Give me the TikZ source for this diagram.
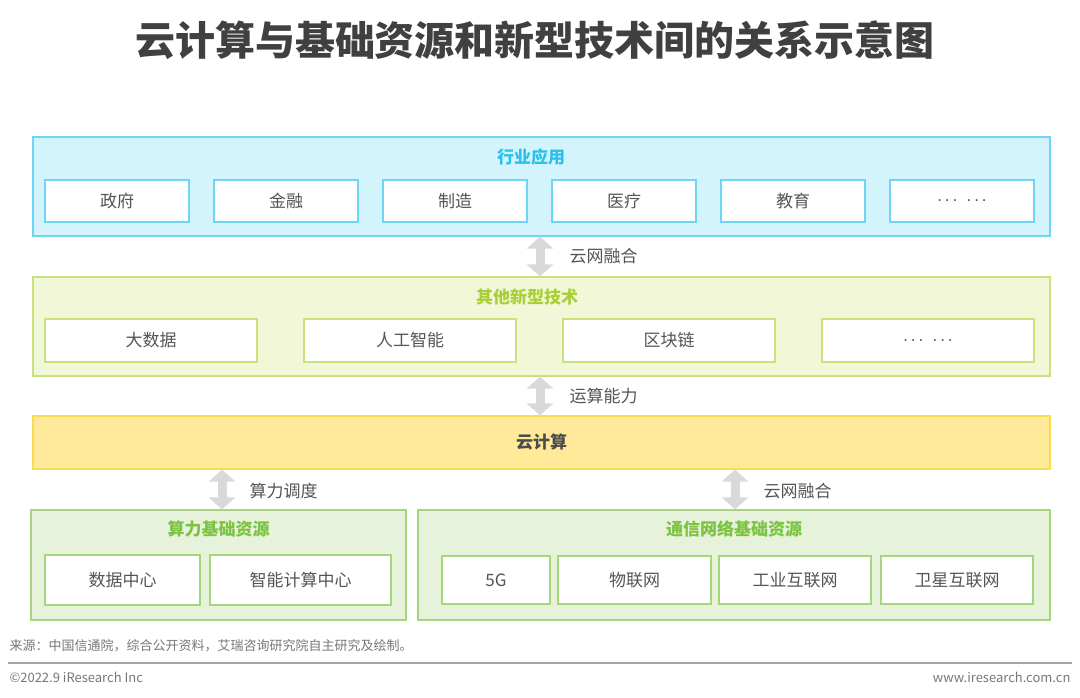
\documentclass[tikz,border=0pt]{standalone}
\usepackage{fontspec}
\setmainfont{Noto Sans CJK SC}
\newfontfamily\latinfont{Liberation Sans}
\usetikzlibrary{arrows.meta}
\definecolor{indfill}{HTML}{D4F4FD}
\definecolor{indline}{HTML}{6DD6F5}
\definecolor{indhead}{HTML}{2CC0EC}
\definecolor{techfill}{HTML}{F1F7D7}
\definecolor{techline}{HTML}{C8E27C}
\definecolor{techhead}{HTML}{A8CF3A}
\definecolor{cloudfill}{HTML}{FEEA98}
\definecolor{cloudline}{HTML}{FADB54}
\definecolor{resfill}{HTML}{E6F2D9}
\definecolor{resline}{HTML}{A5D67B}
\definecolor{reshead}{HTML}{7CC243}
\definecolor{txtgray}{HTML}{555555}
\definecolor{arrowgray}{HTML}{D9D9D9}
\newcommand{\moredots}{{\latinfont .\,.\,.\ \ .\,.\,.}}
\begin{document}
\begin{tikzpicture}[x=1pt, y=-1pt,
    panel/.style={draw, line width=1.2pt, inner sep=0pt},
    item/.style={draw, line width=1.2pt, fill=white, inner sep=0pt, text=txtgray, font=\fontsize{17}{17}\selectfont},
    head/.style={font=\fontsize{17}{17}\selectfont\bfseries},
    bigarrow/.style={draw=arrowgray, line width=9pt, {Triangle[width=26pt,length=12pt]}-{Triangle[width=26pt,length=12pt]}},
    note/.style={anchor=west, text=txtgray, font=\fontsize{17}{17}\selectfont},
    foot/.style={text=txtgray!80, font=\fontsize{13}{13}\selectfont}]
  \useasboundingbox (0,0) rectangle (1080,698);

  \node[text=black!75, font=\fontsize{40}{40}\selectfont\bfseries] (title) at (535,40) {云计算与基础资源和新型技术间的关系示意图};

  % industry applications
  \node[panel, draw=indline, fill=indfill, minimum width=1017pt, minimum height=99pt] (ind) at (541.5,186.5) {};
  \node[head, text=indhead] (indt) at (531,157) {行业应用};
  \foreach \t [count=\i] in {政府,金融,制造,医疗,教育,\moredots}
    \node[item, draw=indline, minimum width=144pt, minimum height=42pt] (a\i) at (117+169*\i-169,201) {\t};

  % other new technologies
  \node[panel, draw=techline, fill=techfill, minimum width=1017pt, minimum height=99pt] (tech) at (541.5,326.5) {};
  \node[head, text=techhead] (techt) at (527,297) {其他新型技术};
  \foreach \t [count=\i] in {大数据,人工智能,区块链,\moredots}
    \node[item, draw=techline, minimum width=212pt, minimum height=43pt] (b\i) at (151+259*\i-259,340.5) {\t};

  % cloud computing
  \node[panel, draw=cloudline, fill=cloudfill, minimum width=1017pt, minimum height=53pt,
        text=black!70, font=\fontsize{17}{17}\selectfont\bfseries] (cloud) at (541.5,442.5) {云计算};

  % computing resources
  \node[panel, draw=resline, fill=resfill, minimum width=375pt, minimum height=110pt] (cpu) at (218.5,565) {};
  \node[head, text=reshead] (cput) at (218.5,529) {算力基础资源};
  \node[item, draw=resline, minimum width=155pt, minimum height=50pt] (c1) at (122.5,580) {数据中心};
  \node[item, draw=resline, minimum width=181pt, minimum height=50pt] (c2) at (300.5,580) {智能计算中心};

  % network resources
  \node[panel, draw=resline, fill=resfill, minimum width=632pt, minimum height=110pt] (net) at (734,565) {};
  \node[head, text=reshead] (nett) at (734,529) {通信网络基础资源};
  \node[item, draw=resline, minimum width=108pt, minimum height=48pt] (d1) at (496,580) {5G};
  \node[item, draw=resline, minimum width=153pt, minimum height=48pt] (d2) at (634.5,580) {物联网};
  \node[item, draw=resline, minimum width=152pt, minimum height=48pt] (d3) at (795,580) {工业互联网};
  \node[item, draw=resline, minimum width=152pt, minimum height=48pt] (d4) at (957,580) {卫星互联网};

  % links
  \coordinate (k1) at ([xshift=-1.5pt]ind.south);
  \coordinate (k3) at ([xshift=3.5pt]cpu.north);
  \coordinate (k4) at ([xshift=1pt]net.north);
  \draw[bigarrow] (k1) -- (tech.north -| k1);
  \node[note] (l1) at (566,256) {云网融合};
  \draw[bigarrow] (tech.south -| k1) -- (cloud.north -| k1);
  \node[note] (l2) at (566,396) {运算能力};
  \draw[bigarrow] (cloud.south -| k3) -- (k3);
  \node[note] (l3) at (246,491) {算力调度};
  \draw[bigarrow] (cloud.south -| k4) -- (k4);
  \node[note] (l4) at (760,491) {云网融合};

  % footer
  \node[foot, anchor=west] (src) at (6,646) {来源：中国信通院，综合公开资料，艾瑞咨询研究院自主研究及绘制。};
  \coordinate (r1) at (8,663);
  \coordinate (r2) at (1072,663);
  \draw[black!35, line width=1.5pt] (r1) -- (r2);
  \node[foot, anchor=west] (copy) at (6,677) {©2022.9 iResearch Inc};
  \node[foot, anchor=east] (web) at (1074,677) {www.iresearch.com.cn};
\end{tikzpicture}
\end{document}
